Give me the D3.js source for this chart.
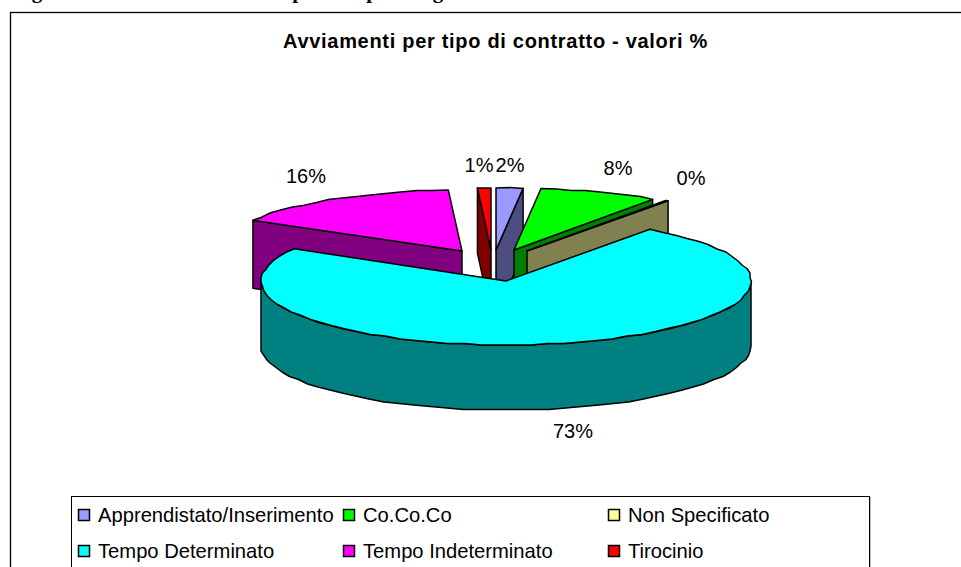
<!DOCTYPE html>
<html><head><meta charset="utf-8">
<script src="https://cdn.jsdelivr.net/npm/d3@7"></script>
<style>html,body{margin:0;padding:0;background:#fff;overflow:hidden}svg{display:block}text{font-family:"Liberation Sans",Arial,sans-serif;fill:#000}</style>
</head><body><svg id="c" width="961" height="567"></svg>
<script>
const categories=["Apprendistato/Inserimento","Co.Co.Co","Non Specificato","Tempo Determinato","Tempo Indeterminato","Tirocinio"];
const values=[1.8,8.0,0.2,73.4,15.7,0.9];
const faceColors=["#9999ff","#00ff00","#ffff99","#00ffff","#ff00ff","#ff0000"];
const wallColors=["#4d4d80","#008000","#808050","#008080","#800080","#800000"];
const tickLabels=["2%","8%","0%","73%","16%","1%"];
const title="Avviamenti per tipo di contratto - valori %";
const cutHeadingGlyphs=["g","p","p","g"];

const svg=d3.select("#c");
const layout={cx:506,cy:281};
const shiftX=[-10,8,21,0,-44,-15];
const shiftY=[-31,-31,-30,0,-30,-31];
const radiusX=[240,240,240,245,242,240];
const radiusY=[62,62,62,64,61,62];
const wallDepth=[65,65,65,65,68,65];
const labelPos=[[510,165],[618,168],[691,178],[573,431],[306,176],[479,165]];
const cutHeadingX=[37,298,372,438];
const drawOrder=[4,5,0,1,2,3];

svg.append("rect").attr("x",10.5).attr("y",12.5).attr("width",1000).attr("height",600).attr("fill","#fff").attr("stroke","#000").attr("stroke-width",1.3);
cutHeadingGlyphs.forEach((g,i)=>svg.append("text").attr("x",cutHeadingX[i]).attr("y",-2).attr("text-anchor","middle").attr("font-weight","bold").attr("font-size",21).style("font-family","'Liberation Serif',serif").text(g));
svg.append("text").attr("x",495.5).attr("y",48).attr("text-anchor","middle").attr("font-weight","bold").attr("font-size",20).attr("letter-spacing",0.7).text(title);

const arcs=d3.pie().sort(null).value(d=>d)(values);
const line=d3.line();
const snap=v=>Math.round(v/1.5)*1.5;
function pt(i,a,r=1,down=0){
  const d=d3.scaleLinear().domain([-1,1]);
  const X=d.copy().range([layout.cx+shiftX[i]-radiusX[i],layout.cx+shiftX[i]+radiusX[i]]);
  const Y=d.copy().range([layout.cy+shiftY[i]+radiusY[i],layout.cy+shiftY[i]-radiusY[i]]);
  return [X(r*Math.sin(a)),Y(r*Math.cos(a))+down];
}
function arcPts(i,a0,a1,down=0){
  const step=Math.PI/45, n=Math.max(1,Math.ceil((a1-a0)/step));
  return d3.range(n+1).map(k=>{
    const p=pt(i,a0+(a1-a0)*k/n,1,down);
    return (k===0||k===n)?p:[snap(p[0]),snap(p[1])];
  });
}
const stroke=g=>g.attr("stroke","#000").attr("stroke-width",1.5).attr("stroke-linejoin","round");

drawOrder.forEach(i=>{
  const s=arcs[i], a0=s.startAngle, a1=s.endAngle, g=svg.append("g").call(stroke), depth=wallDepth[i];
  const apex=pt(i,0,0), apexD=pt(i,0,0,depth);
  const wall=(p,f)=>g.append("path").attr("d",line(p)+"Z").attr("fill",f);
  if(i===3){
    const lo=Math.PI/2, hi=3*Math.PI/2;
    wall([...arcPts(i,lo,hi),...arcPts(i,lo,hi,depth).reverse()],wallColors[i]);
  } else {
    const e=i<3?pt(i,a1):pt(i,a0);
    wall([apex,e,[e[0],e[1]+depth],apexD],wallColors[i]);
  }
  g.append("path").attr("d",line([apex,...arcPts(i,a0,a1)])+"Z").attr("fill",faceColors[i]);
});

tickLabels.forEach((t,i)=>svg.append("text").attr("x",labelPos[i][0]).attr("y",labelPos[i][1]+7).attr("text-anchor","middle").attr("font-size",20).text(t));

svg.append("rect").attr("x",71.5).attr("y",496.5).attr("width",798).attr("height",90).attr("fill","#fff").attr("stroke","#000");
svg.append("line").attr("x1",870.5).attr("x2",870.5).attr("y1",497).attr("y2",567).attr("stroke","#bbb");
const colXs=[78,343,608], rowYs=[515,551];
categories.forEach((c,i)=>{
  const x=colXs[i%3], y=rowYs[Math.floor(i/3)];
  svg.append("rect").attr("x",x+0.5).attr("y",y-5.5).attr("width",11).attr("height",11).attr("fill",faceColors[i]).attr("stroke","#000").attr("stroke-width",1.5);
  svg.append("text").attr("x",x+20).attr("y",y+6.5).attr("font-size",20.2).text(c);
});
</script></body></html>
